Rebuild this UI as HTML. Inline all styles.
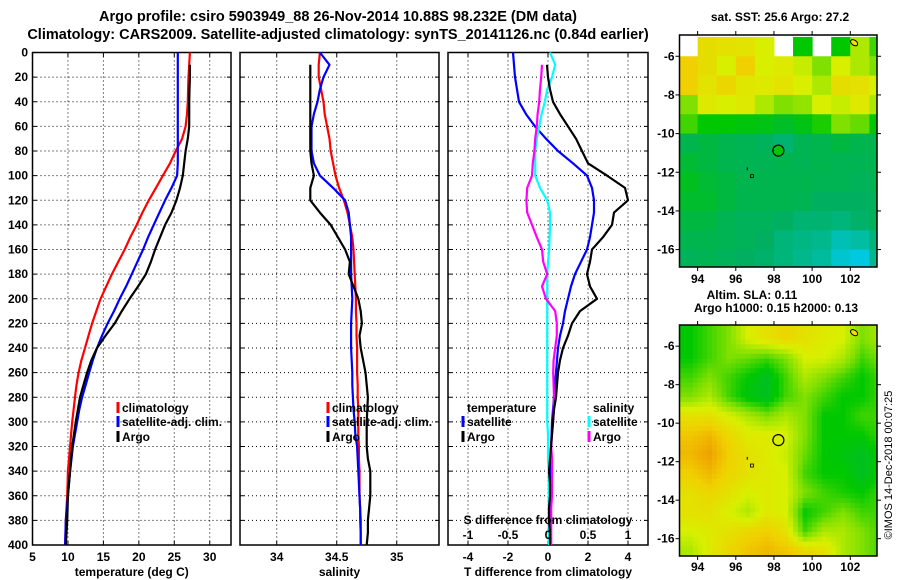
<!DOCTYPE html>
<html><head><meta charset="utf-8">
<style>
html,body{margin:0;padding:0;background:#fff;}
svg{display:block;font-family:"Liberation Sans",sans-serif;font-weight:bold;}
</style></head>
<body>
<svg id="fig" width="900" height="580" viewBox="0 0 900 580" xmlns="http://www.w3.org/2000/svg">
<text x="338" y="21" font-size="14.5" text-anchor="middle">Argo profile: csiro 5903949_88 26-Nov-2014 10.88S 98.232E (DM data)</text>
<text x="338" y="39" font-size="14.5" text-anchor="middle">Climatology: CARS2009. Satellite-adjusted climatology: synTS_20141126.nc (0.84d earlier)</text>
<text x="780" y="21" font-size="12" text-anchor="middle">sat. SST: 25.6 Argo: 27.2</text>
<text x="752" y="299" font-size="12" text-anchor="middle">Altim. SLA: 0.11</text>
<text x="776" y="312" font-size="12" text-anchor="middle">Argo h1000: 0.15 h2000: 0.13</text>
<text transform="translate(892,465) rotate(-90)" font-size="11" font-weight="normal" text-anchor="middle">©IMOS 14-Dec-2018 00:07:25</text>
<g id="layer"></g>
</svg>
<script>
// ---- data ----
const depths = [0,10,20,30,40,50,60,70,80,90,100,110,120,130,140,150,160,170,180,190,200,210,220,230,240,250,260,270,280,290,300,310,320,330,340,350,360,370,380,390,400];
const tempClim = [27.2,27.1,27.0,26.95,26.9,26.8,26.6,26.1,25.2,24.4,23.4,22.4,21.4,20.5,19.7,18.8,18.0,17.1,16.2,15.4,14.6,14.0,13.4,12.9,12.4,11.9,11.5,11.2,11.0,10.8,10.6,10.45,10.3,10.15,10.0,9.95,9.9,9.8,9.7,9.65,9.6];
const tempSat = [25.5,25.5,25.5,25.5,25.5,25.5,25.5,25.5,25.5,25.5,25.4,24.6,23.7,22.9,22.1,21.3,20.6,19.8,19.0,18.2,17.3,16.5,15.6,14.8,14.1,13.5,13.0,12.5,12.0,11.6,11.3,11.0,10.7,10.5,10.3,10.15,10.0,9.85,9.7,9.65,9.6];
const tempArgo = [null,27.2,27.2,27.15,27.1,27.1,27.1,26.9,26.6,26.4,26.2,25.8,25.3,24.6,23.7,23.0,22.3,21.7,21.0,19.9,18.7,17.6,16.6,15.3,14.1,13.3,12.7,12.2,11.7,11.4,11.1,10.85,10.6,10.45,10.3,10.15,10.0,9.95,9.9,9.8,9.7];
const salClim = [34.36,34.35,34.35,34.37,34.39,34.40,34.42,34.44,34.45,34.47,34.49,34.52,34.56,34.59,34.61,34.63,34.64,34.645,34.65,34.655,34.66,34.66,34.665,34.665,34.67,34.67,34.67,34.675,34.675,34.68,34.68,34.68,34.685,34.685,34.69,34.69,34.69,34.695,34.695,34.70,34.70];
const salSat = [34.36,34.44,34.39,34.36,34.34,34.31,34.29,34.29,34.29,34.31,34.36,34.47,34.57,34.60,34.61,34.62,34.62,34.62,34.62,34.625,34.63,34.625,34.62,34.62,34.62,34.625,34.63,34.63,34.635,34.64,34.65,34.655,34.67,34.675,34.68,34.685,34.69,34.695,34.70,34.70,34.70];
const salArgo = [null,34.28,34.28,34.28,34.28,34.28,34.28,34.28,34.28,34.29,34.31,34.28,34.28,34.36,34.45,34.51,34.57,34.61,34.60,34.64,34.68,34.70,34.71,34.69,34.70,34.72,34.74,34.75,34.76,34.755,34.75,34.75,34.75,34.76,34.78,34.78,34.78,34.77,34.76,34.76,34.75];
const tDiffSat = [-1.75,-1.7,-1.65,-1.55,-1.45,-1.1,-0.65,-0.1,0.5,1.25,1.95,2.2,2.3,2.3,2.2,2.1,1.95,1.65,1.35,1.15,1.0,0.85,0.75,0.6,0.5,0.45,0.4,0.35,0.3,0.25,0.2,0.18,0.15,0.12,0.1,0.1,0.1,0.1,0.1,0.1,0.1];
const tDiffArgo = [null,-0.05,0.0,0.1,0.25,0.6,1.0,1.4,1.7,2.0,2.95,3.85,4.0,3.3,3.2,2.75,2.2,2.1,1.95,2.1,2.45,1.6,1.2,1.0,0.75,0.6,0.5,0.45,0.4,0.3,0.25,0.2,0.15,0.1,0.05,0.1,0.1,0.05,0.05,0.1,0.1];
const sDiffSat = [0.025,0.09,0.05,-0.01,-0.04,-0.08,-0.11,-0.14,-0.16,-0.16,-0.16,-0.10,-0.01,0.025,0.025,0.02,0.015,0.0,-0.01,-0.01,-0.01,-0.01,-0.01,-0.01,-0.01,-0.01,-0.01,-0.01,-0.01,-0.01,-0.01,0.0,0.0,0.0,0.01,0.01,0.01,0.01,0.01,0.01,0.01];
const sDiffArgo = [null,-0.075,-0.085,-0.1,-0.11,-0.13,-0.14,-0.16,-0.17,-0.19,-0.20,-0.26,-0.27,-0.26,-0.20,-0.14,-0.075,-0.06,-0.01,-0.075,-0.025,0.09,0.11,0.11,0.09,0.07,0.065,0.07,0.075,0.07,0.065,0.05,0.04,0.05,0.05,0.05,0.05,0.04,0.04,0.04,0.04];
const depthTicks = [0,20,40,60,80,100,120,140,160,180,200,220,240,260,280,300,320,340,360,380,400];
const tempTicks = [5,10,15,20,25,30];
const salTicks = [34,34.5,35];
const salTickLabels = ["34","34.5","35"];
const tdTicks = [-4,-2,0,2,4];
const sdTicks = [-1,-0.5,0,0.5,1];
const sdTickLabels = ["-1","-0.5","0","0.5","1"];
const mapLonTicks = [94,96,98,100,102];
const mapLatTicks = [-6,-8,-10,-12,-14,-16];
const sstGrid = [
 [null,0.76,0.75,0.74,0.7,null,0.5,null,0.5,0.65,0.55],
 [0.8,0.76,0.7,0.8,0.7,0.72,0.68,0.6,0.7,0.65,0.6],
 [0.8,0.74,0.78,0.73,0.72,0.74,0.7,0.65,0.76,0.75,0.7],
 [0.6,0.72,0.7,0.72,0.65,0.6,0.62,0.7,0.68,0.72,0.65],
 [0.55,0.5,0.5,0.48,0.47,0.44,0.47,0.52,0.6,0.58,0.5],
 [0.38,0.4,0.38,0.37,0.36,0.33,0.37,0.38,0.4,0.38,0.38],
 [0.42,0.4,0.38,0.37,0.37,0.38,0.37,0.38,0.37,0.37,0.38],
 [0.45,0.42,0.4,0.38,0.38,0.38,0.38,0.37,0.37,0.36,0.37],
 [0.43,0.43,0.4,0.38,0.38,0.38,0.37,0.35,0.35,0.35,0.36],
 [0.4,0.4,0.37,0.36,0.36,0.35,0.33,0.33,0.32,0.34,0.36],
 [0.38,0.38,0.37,0.36,0.35,0.32,0.31,0.3,0.25,0.27,0.32],
 [0.36,0.37,0.36,0.35,0.34,0.32,0.3,0.28,0.22,0.2,0.3]
];
const slaGrid = [
 [0.5,0.55,0.6,0.7,0.75,0.78,0.75,0.72,0.7,0.6,0.65],
 [0.5,0.55,0.6,0.58,0.55,0.6,0.7,0.7,0.65,0.55,0.6],
 [0.55,0.6,0.55,0.5,0.45,0.55,0.65,0.6,0.55,0.5,0.55],
 [0.6,0.65,0.55,0.48,0.45,0.55,0.6,0.55,0.5,0.5,0.55],
 [0.75,0.75,0.7,0.65,0.6,0.65,0.6,0.5,0.5,0.55,0.55],
 [0.82,0.85,0.78,0.72,0.72,0.7,0.6,0.5,0.5,0.5,0.55],
 [0.85,0.9,0.8,0.75,0.72,0.68,0.58,0.5,0.48,0.45,0.5],
 [0.8,0.85,0.78,0.75,0.72,0.7,0.55,0.5,0.5,0.45,0.5],
 [0.75,0.78,0.75,0.7,0.72,0.7,0.6,0.55,0.52,0.5,0.55],
 [0.75,0.75,0.7,0.65,0.72,0.7,0.5,0.55,0.6,0.55,0.55],
 [0.7,0.72,0.75,0.78,0.8,0.75,0.55,0.65,0.65,0.6,0.55],
 [0.65,0.72,0.78,0.82,0.85,0.82,0.78,0.75,0.65,0.6,0.55]
];
const argoLon = 98.232, argoLat = -10.88;

const NS="http://www.w3.org/2000/svg";
const L=document.getElementById('layer');
function mk(tag,attrs,parent){const e=document.createElementNS(NS,tag);for(const k in attrs)e.setAttribute(k,attrs[k]);(parent||L).appendChild(e);return e;}
function txt(x,y,s,size,anchor,parent,fill){const t=mk('text',{x:x,y:y,'font-size':size||12,'text-anchor':anchor||'middle',fill:fill||'#000'},parent);t.textContent=s;return t;}

const Y0=52.5, Y1=545;
const yD=d=>Y0+(d-0)*(Y1-Y0)/400;

function panel(name,x0,x1,xmin,xmax,ticks,tickLabels,xtitle){
  const g=mk('g',{});
  
  
  const xs=v=>x0+(v-xmin)*(x1-x0)/(xmax-xmin);
  depthTicks.forEach(d=>{if(d>0&&d<400){const l=mk('line',{x1:x0,x2:x1,y1:yD(d),y2:yD(d),stroke:'#000','stroke-width':1,'stroke-dasharray':'1,3'},g);
    
    }});
  ticks.forEach(v=>{const X=xs(v);if(X>x0+1&&X<x1-1){const l=mk('line',{x1:X,x2:X,y1:Y0,y2:Y1,stroke:'#000','stroke-width':1,'stroke-dasharray':'1,3'},g);
    
    }});
  depthTicks.forEach(d=>{mk('line',{x1:x0,x2:x0+4,y1:yD(d),y2:yD(d),stroke:'#000'},g);mk('line',{x1:x1-4,x2:x1,y1:yD(d),y2:yD(d),stroke:'#000'},g);});
  ticks.forEach((v,i)=>{const X=xs(v);mk('line',{x1:X,x2:X,y1:Y1-4,y2:Y1,stroke:'#000'},g);mk('line',{x1:X,x2:X,y1:Y0,y2:Y0+4,stroke:'#000'},g);
    const t=txt(X,561,tickLabels?tickLabels[i]:String(v),12,'middle',g);
    
    });
  const r=mk('rect',{x:x0,y:Y0,width:x1-x0,height:Y1-Y0,fill:'none',stroke:'#000','stroke-width':1.5},g);
  
  
  const tt=txt((x0+x1)/2,576,xtitle,12,'middle',g);
  
  
  return {g,xs};
}
function line(p,vals,color,name,xf){
  let d='';let started=false;
  vals.forEach((v,i)=>{if(v===null)return;const X=p.xs(xf?xf(v):v),Y=yD(depths[i]);d+=(started?'L':'M')+X.toFixed(1)+','+Y.toFixed(1);started=true;});
  const path=mk('path',{d:d,fill:'none',stroke:color,'stroke-width':2.2,'stroke-linejoin':'round'},p.g);
  
  
}
function legend(g,x,y,color,label,name){
  if(color){const m=mk('line',{x1:x-5,x2:x-5,y1:y-10,y2:y+1,stroke:color,'stroke-width':3},g);
    
    }
  const t=txt(x-1,y,label,12,'start',g);
  
  
}

depthTicks.forEach(d=>{const t=txt(28,yD(d)+4,String(d),12,'end');
  
  });

const p1=panel('temperature-panel',32.5,231,5,33,tempTicks,null,'temperature (deg C)');
line(p1,tempClim,'#ff0000','temp-climatology-line');
line(p1,tempSat,'#0000ff','temp-satellite-line');
line(p1,tempArgo,'#000000','temp-argo-line');
legend(p1.g,123,412,'#ff0000','climatology','legend-climatology');
legend(p1.g,123,426,'#0000ff','satellite-adj. clim.','legend-satellite-adj');
legend(p1.g,123,441,'#000000','Argo','legend-argo');

const p2=panel('salinity-panel',240,439,33.694,35.352,salTicks,salTickLabels,'salinity');
line(p2,salClim,'#ff0000','sal-climatology-line');
line(p2,salSat,'#0000ff','sal-satellite-line');
line(p2,salArgo,'#000000','sal-argo-line');
legend(p2.g,333,412,'#ff0000','climatology','legend-climatology');
legend(p2.g,333,426,'#0000ff','satellite-adj. clim.','legend-satellite-adj');
legend(p2.g,333,441,'#000000','Argo','legend-argo');

const p3=panel('difference-panel',448,648,-5,5,tdTicks,null,'T difference from climatology');
line(p3,tDiffSat,'#0000ff','tdiff-satellite-line');
line(p3,sDiffSat,'#00ffff','sdiff-satellite-line',v=>v*4);
line(p3,sDiffArgo,'#ff00ff','sdiff-argo-line',v=>v*4);
line(p3,tDiffArgo,'#000000','tdiff-argo-line');
legend(p3.g,468,412,null,'temperature','legend-temperature-heading');
legend(p3.g,468,426,'#0000ff','satellite','legend-t-satellite');
legend(p3.g,468,441,'#000000','Argo','legend-t-argo');
legend(p3.g,594,412,null,'salinity','legend-salinity-heading');
legend(p3.g,594,426,'#00ffff','satellite','legend-s-satellite');
legend(p3.g,594,441,'#ff00ff','Argo','legend-s-argo');
{const t=txt(548,524,'S difference from climatology',12,'middle',p3.g);
 
 }
sdTicks.forEach((v,i)=>{const t=txt(p3.xs(v*4),539,sdTickLabels[i],12,'middle',p3.g);
 
 });

const stops=[[0,[0,144,255]],[0.2,[0,200,224]],[0.35,[0,176,96]],[0.5,[0,200,0]],[0.6,[128,224,0]],[0.7,[216,240,0]],[0.8,[240,208,0]],[0.9,[240,160,0]],[1,[224,128,0]]];
function cmap(v){v=Math.max(0,Math.min(1,v));for(let i=1;i<stops.length;i++){if(v<=stops[i][0]){const a=stops[i-1],b=stops[i];const f=(v-a[0])/(b[0]-a[0]);const c=a[1].map((x,k)=>Math.round(x+(b[1][k]-x)*f));return 'rgb('+c.join(',')+')';}}return 'rgb(224,128,0)';}
function mapPanel(name,x0,x1,y0,y1,grid,smooth,filledCircle,xlabY){
  const g=mk('g',{});
  
  
  const lonMin=93.05,lonMax=103.4,latTop=-4.9,latBot=-16.9;
  const xs=lon=>x0+(lon-lonMin)*(x1-x0)/(lonMax-lonMin);
  const ys=lat=>y0+(latTop-lat)*(y1-y0)/(latTop-latBot);
  const cid='clip'+name;
  const cp=mk('clipPath',{id:cid},g);mk('rect',{x:x0,y:y0,width:x1-x0,height:y1-y0},cp);
  const cg=mk('g',{'clip-path':'url(#'+cid+')'},g);
  const rows=grid.length,cols=grid[0].length;
  if(!smooth){
    grid.forEach((row,r)=>row.forEach((v,c)=>{if(v===null)return;
      const X=xs(93+c),Y=ys(-5-r);
      const cell=mk('rect',{x:X,y:Y,width:xs(94+c)-X+0.5,height:ys(-6-r)-Y+0.5,fill:cmap(v)},cg);
      
      }));
  } else {
    const step=0.25;
    for(let lat=-4.9;lat>-17;lat-=step){for(let lon=93;lon<103.5;lon+=step){
      const fr=Math.max(0,Math.min(rows-1,(-5-lat-0.5))), fc=Math.max(0,Math.min(cols-1,lon-93.5));
      const r0=Math.floor(fr),c0=Math.floor(fc),r1=Math.min(rows-1,r0+1),c1=Math.min(cols-1,c0+1);
      const fy=fr-r0,fx=fc-c0;
      const v=grid[r0][c0]*(1-fx)*(1-fy)+grid[r0][c1]*fx*(1-fy)+grid[r1][c0]*(1-fx)*fy+grid[r1][c1]*fx*fy;
      const X=xs(lon),Y=ys(lat);
      const cell=mk('rect',{x:X,y:Y,width:xs(lon+step)-X+0.5,height:ys(lat-step)-Y+0.5,fill:cmap(v)},cg);
      
      
    }}
  }
  const c=mk('circle',{cx:xs(argoLon),cy:ys(argoLat),r:5.5,fill:filledCircle?cmap(0.5):'none',stroke:'#000','stroke-width':1.2},g);
  
  
  mk('rect',{x:xs(96.85)-1.5,y:ys(-12.2)-1.5,width:3,height:3,fill:'none',stroke:'#000','stroke-width':0.8},g);
  mk('line',{x1:xs(96.6),x2:xs(96.6),y1:ys(-11.75),y2:ys(-11.9),stroke:'#000'},g);
  const e=mk('ellipse',{cx:xs(102.2),cy:ys(-5.3),rx:4,ry:2.5,fill:'#f4e000',stroke:'#000','stroke-width':1,transform:'rotate(35 '+xs(102.2)+' '+ys(-5.3)+')'},g);
  
  
  const fr=mk('rect',{x:x0,y:y0,width:x1-x0,height:y1-y0,fill:'none',stroke:'#000','stroke-width':1.5},g);
  
  
  mapLonTicks.forEach(v=>{const X=xs(v);mk('line',{x1:X,x2:X,y1:y0-4,y2:y0,stroke:'#000'},g);mk('line',{x1:X,x2:X,y1:y1,y2:y1+4,stroke:'#000'},g);
    const t=txt(X,xlabY,String(v),12,'middle',g);
    
    });
  mapLatTicks.forEach(v=>{const Y=ys(v);mk('line',{x1:x0-4,x2:x0,y1:Y,y2:Y,stroke:'#000'},g);mk('line',{x1:x1,x2:x1+4,y1:Y,y2:Y,stroke:'#000'},g);
    const t=txt(x0-5,Y+4,String(v),12,'end',g);
    
    });
}
mapPanel('sst-map',679.5,877,35,267,sstGrid,false,true,283);
mapPanel('sla-map',679.5,877,325,556,slaGrid,true,false,571);
</script>
</body></html>
